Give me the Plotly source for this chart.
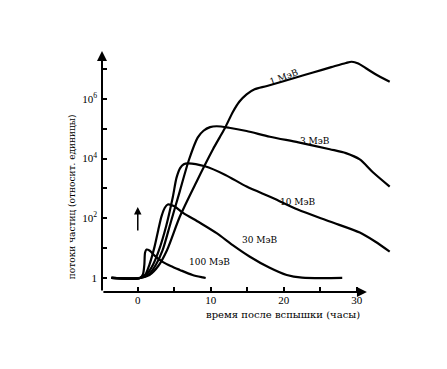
import plotly.graph_objects as go

# Time after flare (hours) and relative flux (log10 values)
t_100 = [-3.6, 0.3, 0.7, 0.9, 1.0, 1.2, 1.6, 2.3, 3.4, 4.5, 5.75, 7.5, 8.9, 9.3]
lg_100 = [0, 0, 0.12, 0.45, 0.85, 0.95, 0.92, 0.75, 0.54, 0.4, 0.27, 0.1, 0.02, 0]

t_30 = [-3.6, 0.3, 1.0, 1.6, 2.3, 2.8, 3.25, 3.7, 4.1, 5.0, 6.2, 8.5, 10.8, 13, 15.3, 18, 20.4, 22.5, 28]
lg_30 = [0, 0, 0.1, 0.45, 1.05, 1.6, 2.06, 2.35, 2.46, 2.4, 2.18, 1.85, 1.5, 1.1, 0.72, 0.35, 0.1, 0.01, 0]

t_10 = [-3.6, 0.3, 1.3, 2.1, 2.9, 3.9, 4.8, 5.3, 5.8, 6.3, 6.85, 9.2, 12, 14.9, 18.5, 21.9, 26.3, 30.4, 32.5, 34.5]
lg_10 = [0, 0, 0.15, 0.45, 0.93, 1.75, 2.71, 3.35, 3.68, 3.81, 3.84, 3.74, 3.45, 3.06, 2.68, 2.29, 1.89, 1.52, 1.22, 0.88]

t_3 = [-3.6, 0.3, 1.5, 2.5, 3.4, 4.5, 5.75, 7.0, 8.2, 9.0, 9.9, 10.8, 12.5, 14.9, 18.1, 22, 26.3, 28.5, 30.4, 32.2, 34.5]
lg_3 = [0, 0, 0.12, 0.45, 0.93, 1.85, 2.9, 3.95, 4.7, 4.93, 5.05, 5.08, 5.03, 4.92, 4.73, 4.54, 4.31, 4.18, 3.97, 3.54, 3.06]

t_1 = [-3.6, 0.3, 1.6, 2.8, 4.0, 5.75, 8.0, 10.3, 11.2, 12.0, 13.0, 13.9, 14.9, 16, 17.7, 21.9, 24, 26.5, 28.5, 29.3, 30.2, 31.2, 32.5, 34.5]
lg_1 = [0, 0, 0.1, 0.4, 0.93, 2.05, 3.2, 4.31, 4.7, 5.05, 5.55, 5.9, 6.15, 6.32, 6.43, 6.73, 6.88, 7.06, 7.2, 7.24, 7.18, 7.03, 6.83, 6.57]

series = [(t_100, lg_100), (t_30, lg_30), (t_10, lg_10), (t_3, lg_3), (t_1, lg_1)]
labels = ["100 МэВ", "30 МэВ", "10 МэВ", "3 МэВ", "1 МэВ"]

x_ticks = [0, 5, 10, 15, 20, 25, 30]
x_ticktext = ["0", "", "10", "", "20", "", "30"]
y_ticks = [1, 10, 1e2, 1e3, 1e4, 1e5, 1e6, 1e7]
y_ticktext = ["1", "", "10<sup>2</sup>", "", "10<sup>4</sup>", "", "10<sup>6</sup>", ""]

fig = go.Figure()
for (t, lg), name in zip(series, labels):
    fig.add_trace(go.Scatter(
        x=t, y=[10 ** v for v in lg], mode="lines", name=name,
        line=dict(color="black", width=2.2, shape="spline", smoothing=0.8),
        showlegend=False, hoverinfo="skip"))

font = "Liberation Serif, DejaVu Serif, serif"
font2 = "DejaVu Serif, serif"
fig.update_layout(
    width=447, height=369,
    margin=dict(l=94, r=58, t=43, b=85),
    paper_bgcolor="white", plot_bgcolor="white",
    font=dict(family=font, size=11, color="black"),
    xaxis=dict(range=[-4.9, 35.5], showgrid=False, zeroline=False, showline=False,
               tickvals=x_ticks, ticktext=x_ticktext, ticks="inside", ticklen=5,
               tickwidth=1.5, tickcolor="black", tickfont=dict(size=11)),
    yaxis=dict(type="log", range=[-0.47, 7.6], showgrid=False, zeroline=False, showline=False,
               tickvals=y_ticks, ticktext=y_ticktext, ticks="inside", ticklen=5,
               tickwidth=1.5, tickcolor="black", tickfont=dict(size=11),
               ticklabelstandoff=4),
)

# axes with arrowheads
fig.add_annotation(xref="paper", yref="paper", x=0.898, y=0, ax=-265, ay=0,
                   showarrow=True, arrowhead=2, arrowsize=1, arrowwidth=2, arrowcolor="black", text="")
fig.add_annotation(xref="paper", yref="paper", x=0, y=1, ax=0, ay=241,
                   showarrow=True, arrowhead=2, arrowsize=1, arrowwidth=2, arrowcolor="black", text="")
# small flare arrow
fig.add_annotation(xref="x", yref="paper", x=0, y=0.353, ax=0, ay=25,
                   showarrow=True, arrowhead=2, arrowsize=1, arrowwidth=1.5, arrowcolor="black", text="")

# curve labels
lab_pos = {"1 МэВ": (0.617, 0.945, -20), "3 МэВ": (0.780, 0.627, 0), "10 МэВ": (0.732, 0.373, 0),
           "30 МэВ": (0.536, 0.187, 0), "100 МэВ": (0.363, 0.095, 0)}
for txt, (px, py, ang) in lab_pos.items():
    fig.add_annotation(xref="paper", yref="paper", x=px, y=py, text=txt, showarrow=False,
                       textangle=ang, font=dict(family=font2, size=9, color="black"))

# axis titles
fig.add_annotation(xref="paper", yref="paper", x=-0.125, y=0.394, text="потоки частиц (относит. единицы)",
                   showarrow=False, textangle=-90, font=dict(family=font2, size=9, color="black"))
fig.add_annotation(xref="paper", yref="paper", x=0.614, y=-0.124, text="время после вспышки (часы)",
                   showarrow=False, font=dict(family=font2, size=10, color="black"))

fig.write_html("out.html")
